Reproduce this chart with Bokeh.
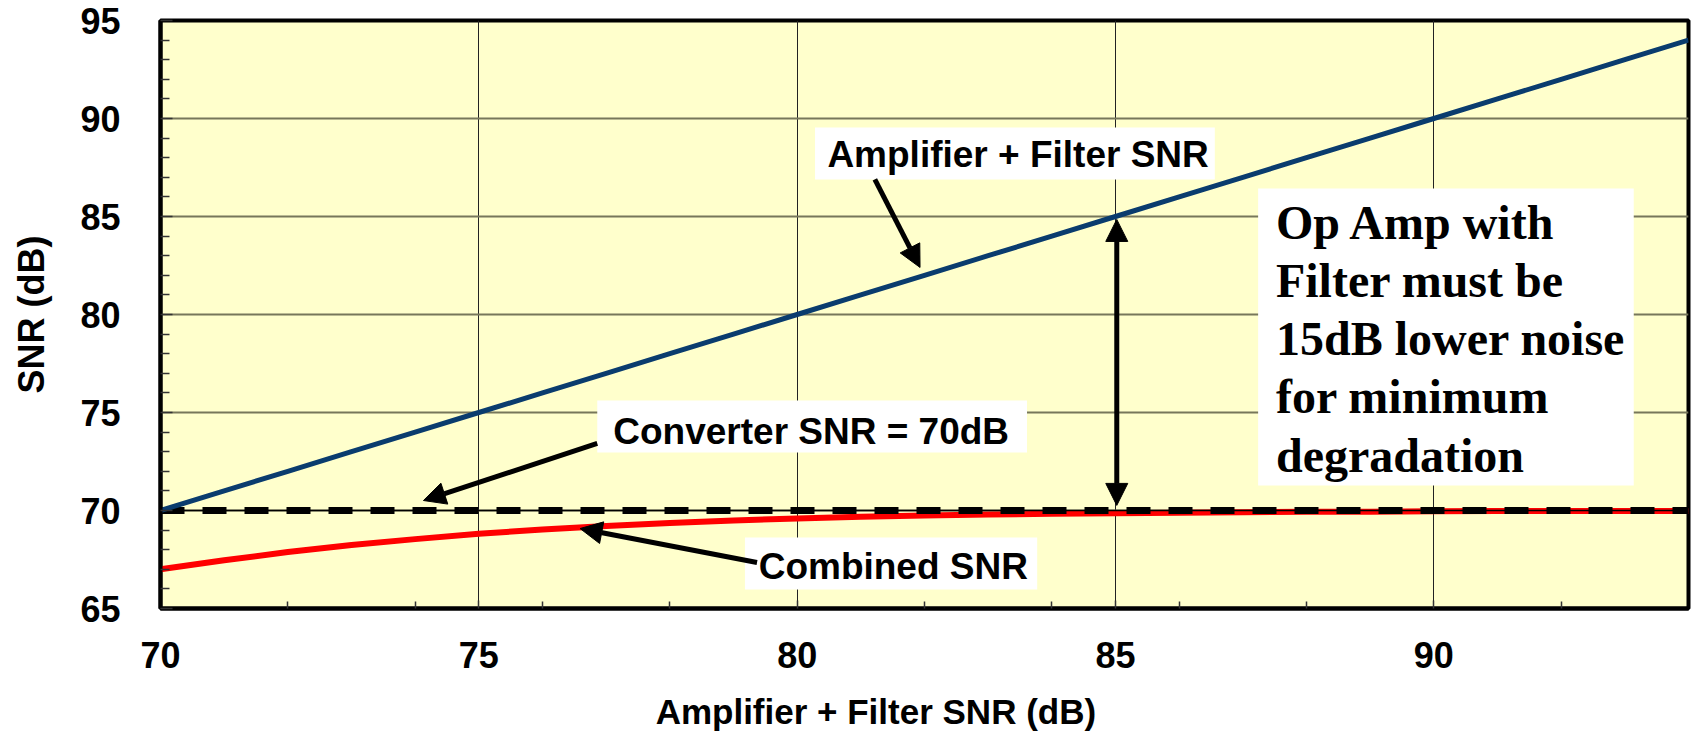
from bokeh.plotting import figure
from bokeh.models import (Range1d, FixedTicker, Label, BoxAnnotation, Arrow,
                          NormalHead, ColumnDataSource)
from bokeh.embed import file_html
from bokeh.resources import INLINE

# ---- data ----
amp_x = [70, 71, 72, 73, 74, 75, 76, 77, 78, 79, 80, 81, 82, 83, 84, 85,
         86, 87, 88, 89, 90, 91, 92, 93, 94]
amp_snr = [70, 71, 72, 73, 74, 75, 76, 77, 78, 79, 80, 81, 82, 83, 84, 85,
           86, 87, 88, 89, 90, 91, 92, 93, 94]
converter_snr = [70, 70, 70, 70, 70, 70, 70, 70, 70, 70, 70, 70, 70, 70, 70,
                 70, 70, 70, 70, 70, 70, 70, 70, 70, 70]
combined_snr = [67.0, 67.46, 67.88, 68.24, 68.54, 68.81, 69.03, 69.21, 69.36,
                69.49, 69.59, 69.68, 69.74, 69.79, 69.83, 69.86, 69.89, 69.91,
                69.93, 69.94, 69.96, 69.97, 69.97, 69.98, 69.98]

x_major = [70, 75, 80, 85, 90]
x_minor = [72, 74, 76, 78, 82, 84, 86, 88, 92]
y_major = [65, 70, 75, 80, 85, 90, 95]
y_minor = [66, 67, 68, 69, 71, 72, 73, 74, 76, 77, 78, 79, 81, 82, 83, 84,
           86, 87, 88, 89, 91, 92, 93, 94]

x_title = "Amplifier + Filter SNR (dB)"
y_title = "SNR (dB)"

SANS = "Liberation Sans"
SERIF = "Liberation Serif"

src = ColumnDataSource(dict(x=amp_x, amp=amp_snr, conv=converter_snr, comb=combined_snr))

p = figure(width=1692, height=744, x_range=Range1d(70, 94), y_range=Range1d(65, 95),
           output_backend="svg", toolbar_location=None,
           min_border_left=160, min_border_right=4, min_border_top=20,
           min_border_bottom=136,
           background_fill_color="#ffffcc", border_fill_color="white")

p.outline_line_color = "black"
p.outline_line_width = 4

# axes
p.xaxis.ticker = FixedTicker(ticks=x_major, minor_ticks=x_minor)
p.yaxis.ticker = FixedTicker(ticks=y_major, minor_ticks=y_minor)
for ax in (p.xaxis, p.yaxis):
    ax.axis_line_color = "black"
    ax.axis_line_width = 4
    ax.major_tick_out = 0
    ax.minor_tick_out = 0
    ax.major_tick_line_color = "#333333"
    ax.minor_tick_line_color = "#333333"
    ax.major_tick_line_width = 1.5
    ax.minor_tick_line_width = 1.5
    ax.major_label_text_font = SANS
    ax.major_label_text_font_style = "bold"
    ax.major_label_text_font_size = "36px"
    ax.major_label_text_color = "black"
    ax.axis_label_text_font = SANS
    ax.axis_label_text_font_style = "bold"
    ax.axis_label_text_color = "black"
p.yaxis.major_tick_in = 12
p.yaxis.minor_tick_in = 9
p.xaxis.major_tick_in = 8
p.xaxis.minor_tick_in = 7
p.yaxis.major_label_standoff = 40
p.xaxis.major_label_standoff = 33

p.yaxis.axis_label = y_title
p.yaxis.axis_label_text_font_size = "36px"
p.yaxis.axis_label_standoff = 25

# x title sits left of the frame centre in the reference: pad on the right
p.xaxis.axis_label = x_title + "\u00a0" * 10
p.xaxis.axis_label_text_font_size = "35px"
p.xaxis.axis_label_standoff = 21

# grid
p.xgrid.grid_line_color = "#222222"
p.xgrid.grid_line_width = 1
p.ygrid.grid_line_color = "#77775a"
p.ygrid.grid_line_width = 2

# series
p.line("x", "comb", source=src, line_color="#ff0000", line_width=6)
p.line("x", "conv", source=src, line_color="black", line_width=1.5)
p.line("x", "conv", source=src, line_color="black", line_width=7, line_dash="24 18")
p.line("x", "amp", source=src, line_color="#0a3c6e", line_width=5)

# white boxes
for l, r, t, b in [(80.28, 86.56, 89.54, 86.89),
                   (76.86, 83.61, 75.61, 72.96),
                   (79.18, 83.77, 68.62, 65.97),
                   (87.24, 93.14, 86.43, 71.28)]:
    p.add_layout(BoxAnnotation(left=l, right=r, top=t, bottom=b,
                               fill_color="white", fill_alpha=1.0, line_color=None))

# labels
def lab(x, y, text, **kw):
    d = dict(x=x, y=y, text=text, text_font=SANS, text_font_style="bold",
             text_font_size="37px", text_color="black",
             text_align="center", text_baseline="middle")
    d.update(kw)
    p.add_layout(Label(**d))

lab(83.47, 88.16, "Amplifier + Filter SNR")
lab(80.22, 74.03, "Converter SNR = 70dB")
lab(81.51, 67.14, "Combined SNR")
lab(87.52, 86.07, "Op Amp with\nFilter must be\n15dB lower noise\nfor minimum\ndegradation",
    text_font=SERIF, text_font_size="48px", text_align="left", text_baseline="top",
    text_line_height=1.1)

# arrows
def arrow(xs, ys, xe, ye, both=False):
    head = lambda: NormalHead(size=22, fill_color="black", line_color="black", line_width=1)
    kw = dict(x_start=xs, y_start=ys, x_end=xe, y_end=ye, line_color="black",
              line_width=5, end=head())
    if both:
        kw["start"] = head()
    p.add_layout(Arrow(**kw))

arrow(81.22, 86.89, 81.93, 82.40)
arrow(76.86, 73.42, 74.13, 70.51)
arrow(79.37, 67.35, 76.59, 69.08)
arrow(85.02, 84.85, 85.02, 70.26, both=True)

open("out.html", "w").write(file_html(p, INLINE))
